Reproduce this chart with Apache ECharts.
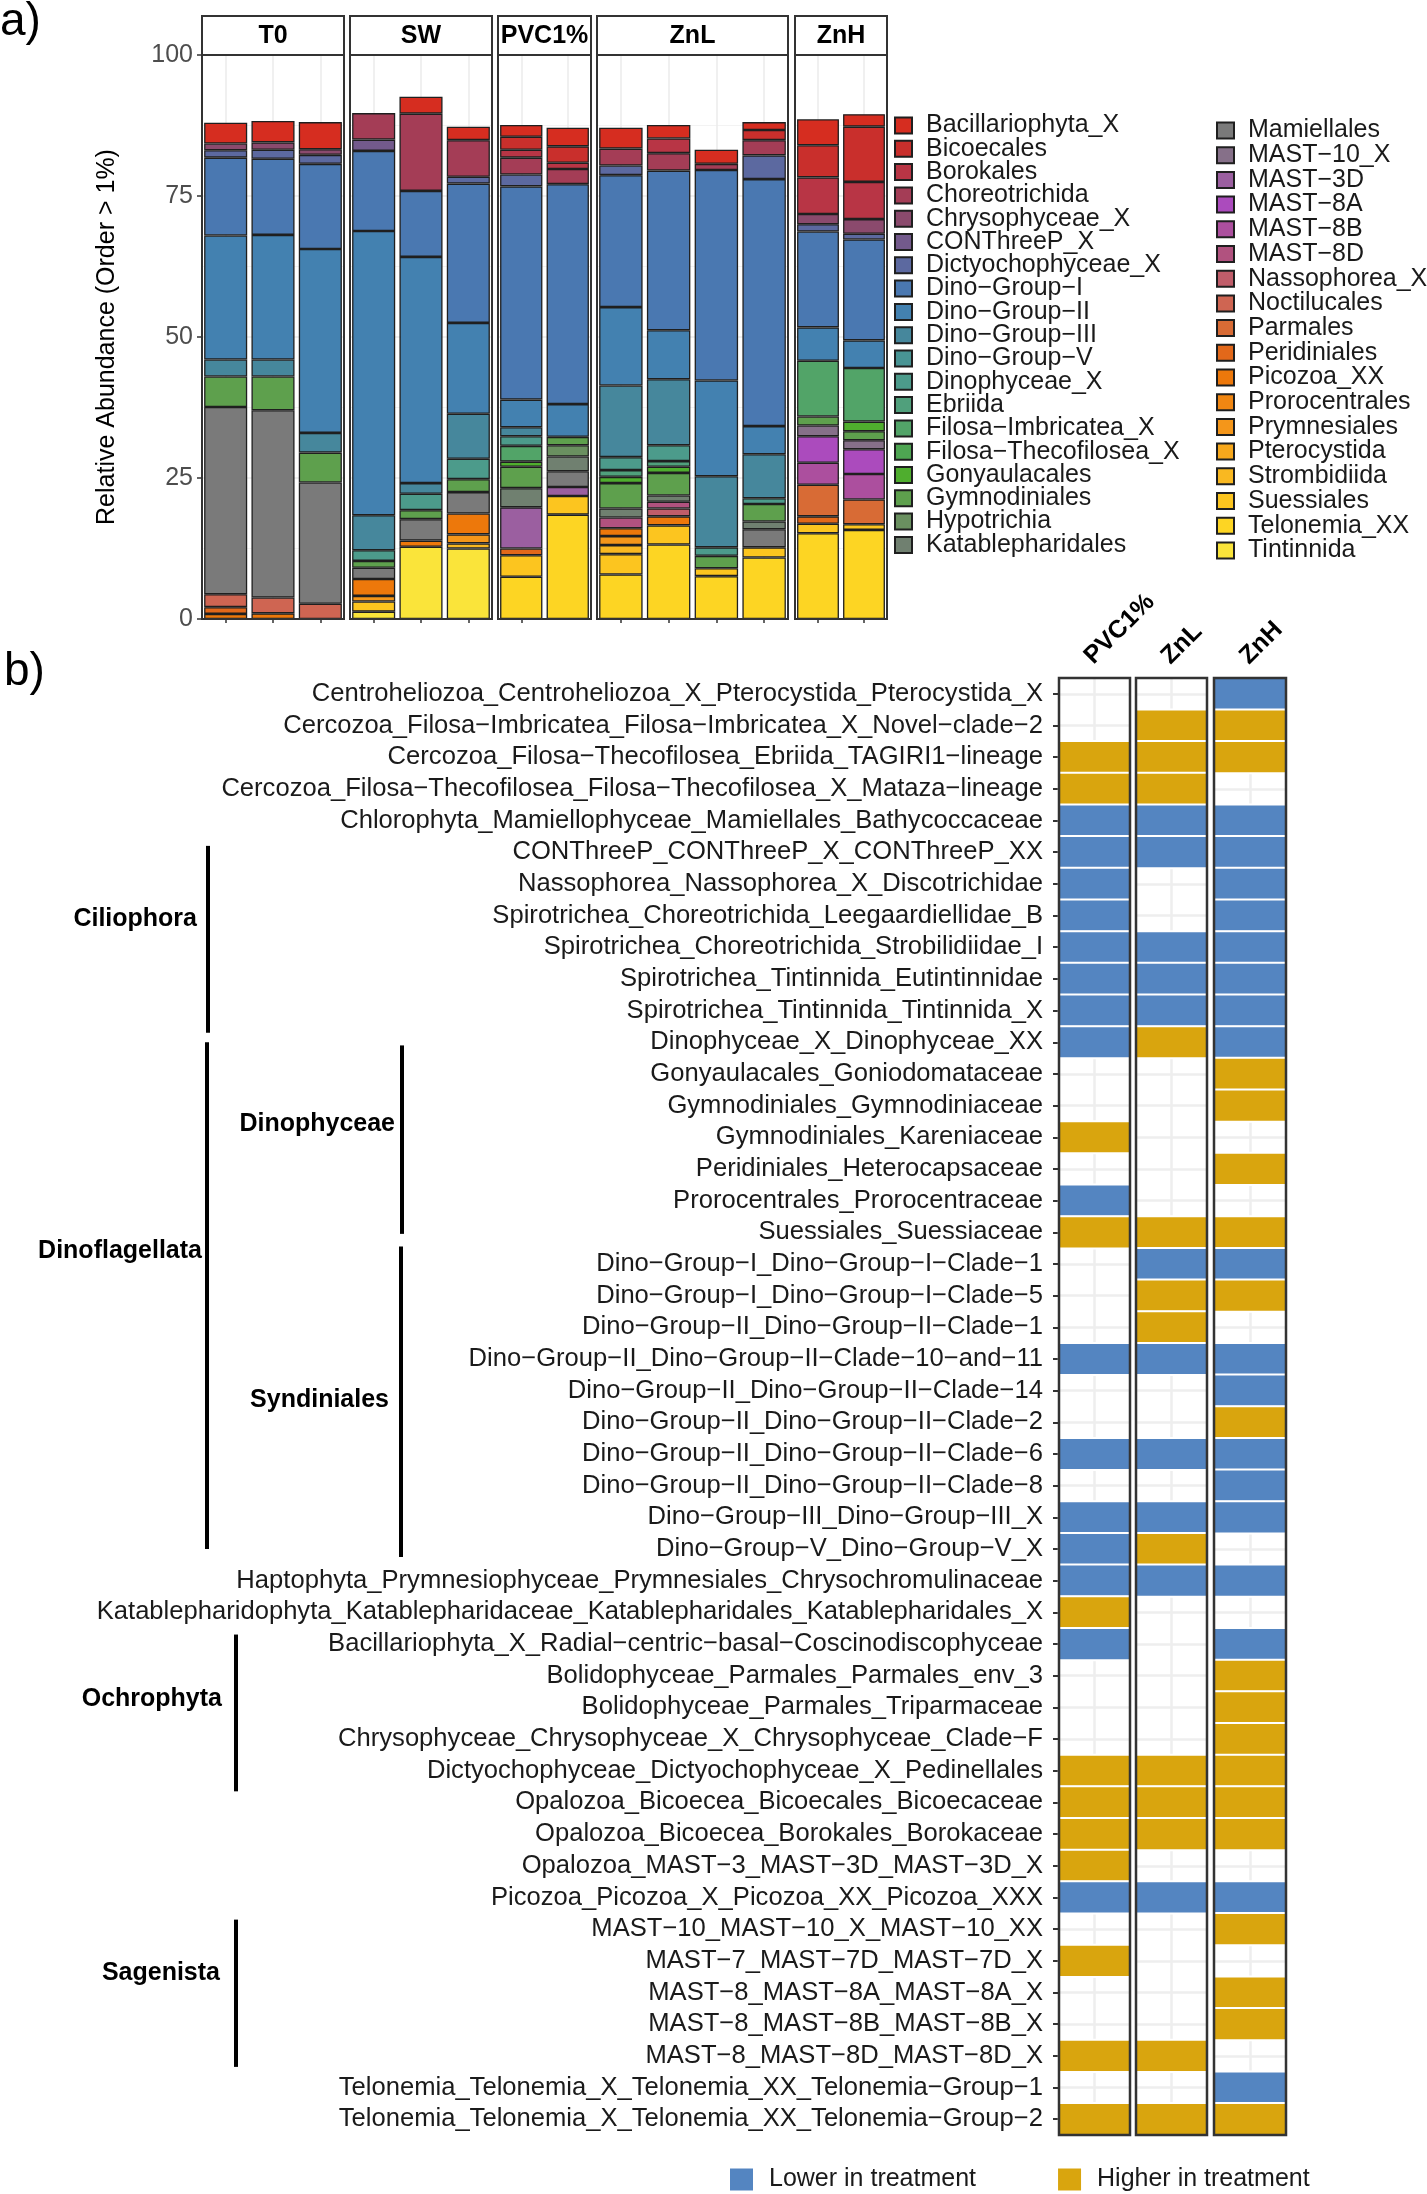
<!DOCTYPE html>
<html><head><meta charset="utf-8">
<script src="https://cdn.jsdelivr.net/npm/echarts@6/dist/echarts.min.js"></script>
<style>html,body{margin:0;padding:0;background:#fff}#c{width:1427px;height:2194px}</style>
</head><body><div id="c"></div>
<script>
// ---------------- DATA: panel a (stacked relative abundance) ----------------
const samples = ['T0-1','T0-2','T0-3','SW-1','SW-2','SW-3','PVC1%-1','PVC1%-2','ZnL-1','ZnL-2','ZnL-3','ZnL-4','ZnH-1','ZnH-2'];
const sampleFacet = ['T0','T0','T0','SW','SW','SW','PVC1%','PVC1%','ZnL','ZnL','ZnL','ZnL','ZnH','ZnH'];
const facets = ['T0','SW','PVC1%','ZnL','ZnH'];
const yTicks = [0,25,50,75,100];
const taxa = ['Bacillariophyta_X','Bicoecales','Borokales','Choreotrichida','Chrysophyceae_X','CONThreeP_X','Dictyochophyceae_X','Dino-Group-I','Dino-Group-II','Dino-Group-III','Dino-Group-V','Dinophyceae_X','Ebriida','Filosa-Imbricatea_X','Filosa-Thecofilosea_X','Gonyaulacales','Gymnodiniales','Hypotrichia','Katablepharidales','Mamiellales','MAST-10_X','MAST-3D','MAST-8A','MAST-8B','MAST-8D','Nassophorea_X','Noctilucales','Parmales','Peridiniales','Picozoa_XX','Prorocentrales','Prymnesiales','Pterocystida','Strombidiida','Suessiales','Telonemia_XX','Tintinnida'];
const taxonColors = ['#D62D20','#C92F2C','#B83545','#A43D56','#8B4A6D','#735A8C','#5C69A0','#4A78B1','#4381B0','#46879C','#489494','#4C9B8B','#50A07C','#52A468','#4EA552','#4FAE2E','#5EA04D','#6A9060','#708070','#7A7A7A','#867089','#9B5FA0','#AB4BBD','#AC4F9E','#B1527F','#C05D6A','#CF6552','#D86B35','#E2681A','#ED780B','#F08612','#F4961A','#F7A81C','#F9B821','#FCC51F','#FDD523','#FAE43A'];

const Bacillariophyta_X     = [3.7,3.8,4.8, 0,3.0,2.4, 2.1,3.3, 3.7,2.4,2.5,1.4, 4.6,2.2];
const Bicoecales            = [0,0,0, 0,0,0, 2.3,2.9, 0,0,0,1.8, 5.7,9.8];
const Borokales             = [0,0,0, 0,0,0, 1.4,1.1, 0,2.6,0,0, 6.5,6.6];
const Choreotrichida        = [0,0,0, 4.7,13.7,6.5, 3.0,2.7, 3.0,3.1,1.1,2.7, 0,0];
const Chrysophyceae_X       = [1.2,1.3,1.0, 0,0,0, 0,0, 0,0,0,0, 1.8,2.6];
const CONThreeP_X           = [0,0,0, 2.0,0,0, 0,0, 0,0,0,0, 0,0];
const Dictyochophyceae_X    = [1.3,1.6,1.6, 0,0,1.2, 2.1,0, 1.7,0,0,4.2, 1.3,1.0];
const Dino_Group_I          = [13.8,13.5,15.1, 14.2,11.7,24.7, 37.8,39.0, 23.4,28.3,37.3,43.8, 17.0,17.9];
const Dino_Group_II         = [22.0,22.1,32.6, 50.4,40.1,16.1, 4.9,5.8, 13.9,8.7,17.0,5.0, 5.9,4.9];
const Dino_Group_III        = [3.0,3.0,3.5, 6.2,1.9,8.0, 1.6,0, 12.7,11.7,12.6,7.8, 0,0];
const Dino_Group_V          = [0,0,0, 0,0,0, 0,0, 0,0,0,0, 0,0];
const Dinophyceae_X         = [0,0,0, 1.9,2.9,3.6, 1.7,0, 2.3,2.8,1.5,1.0, 0,0];
const Ebriida               = [0,0,0, 0,0,0, 0,0, 1.2,1.0,0,0, 0,0];
const Filosa_Imbricatea_X   = [0,0,0, 0,0,0, 2.8,0, 0,0,0,0, 9.9,9.5];
const Filosa_Thecofilosea_X = [0,0,0, 0,0,0, 0,0, 0,0,0,0, 0,0];
const Gonyaulacales         = [0,0,0, 0,0,0, 0.9,0, 1.1,1.1,0,0, 0,1.7];
const Gymnodiniales         = [5.4,6.0,5.3, 1.2,1.6,2.3, 3.8,1.5, 4.5,4.0,2.2,3.1, 1.6,1.6];
const Hypotrichia           = [0,0,0, 0,0,0, 0,2.0, 0,0,0,0, 0,0];
const Katablepharidales     = [0,0,0, 0,0,0, 3.4,2.6, 1.6,1.1,0,1.4, 0,0];
const Mamiellales           = [33.2,33.2,21.5, 2.0,3.8,3.8, 0,2.8, 0,0,0,3.2, 0,0];
const MAST_10_X             = [0,0,0, 0,0,0, 0,0, 0,0,0,0, 1.9,1.6];
const MAST_3D               = [0,0,0, 0,0,0, 7.3,1.6, 0,0,0,0, 0,0];
const MAST_8A               = [0,0,0, 0,0,0, 0,0, 0,0,0,0, 4.7,4.4];
const MAST_8B               = [0,0,0, 0,0,0, 0,0, 0,0,0,0, 3.9,4.5];
const MAST_8D               = [0,0,0, 0,0,0, 0,0, 1.9,1.2,0,0, 0,0];
const Nassophorea_X         = [0,0,0, 0,0,0, 0,0, 0,1.4,0,0, 0,0];
const Noctilucales          = [2.3,2.8,2.7, 0,0,0, 0,0, 0,0,0,0, 0,0];
const Parmales              = [0,0,0, 0,0,0, 0,0, 0,0,0,0, 5.6,4.4];
const Peridiniales          = [1.2,0,0, 0,0,0, 1.2,0, 0,0,0,0, 1.3,0];
const Picozoa_XX            = [0.9,1.0,0, 3.0,1.1,3.7, 0,0, 1.4,1.6,0,0, 0,0];
const Prorocentrales        = [0,0,0, 0,0,0, 0,0, 0,0,0,0, 0,0];
const Prymnesiales          = [0,0,0, 1.0,0,1.6, 0,0, 1.6,0,0,0, 0,0];
const Pterocystida          = [0,0,0, 0,0,0, 0,0, 0,0,0,0, 0,0];
const Strombidiida          = [0,0,0, 0,0,0.9, 0,0, 1.6,0,0,0, 0,0];
const Suessiales            = [0,0,0, 1.8,0,0, 3.8,3.3, 3.6,3.4,1.4,1.8, 1.7,1.0];
const Telonemia_XX          = [0,0,0, 0,0,0, 7.5,18.5, 7.9,13.2,7.6,10.9, 15.2,15.8];
const Tintinnida            = [0,0,0, 1.3,12.8,12.5, 0,0, 0,0,0,0, 0,0];

const taxonValues = [Bacillariophyta_X,Bicoecales,Borokales,Choreotrichida,Chrysophyceae_X,CONThreeP_X,Dictyochophyceae_X,Dino_Group_I,Dino_Group_II,Dino_Group_III,Dino_Group_V,Dinophyceae_X,Ebriida,Filosa_Imbricatea_X,Filosa_Thecofilosea_X,Gonyaulacales,Gymnodiniales,Hypotrichia,Katablepharidales,Mamiellales,MAST_10_X,MAST_3D,MAST_8A,MAST_8B,MAST_8D,Nassophorea_X,Noctilucales,Parmales,Peridiniales,Picozoa_XX,Prorocentrales,Prymnesiales,Pterocystida,Strombidiida,Suessiales,Telonemia_XX,Tintinnida];

// ---------------- DATA: panel b (direction of change) ----------------
const hmCols = ['PVC1%','ZnL','ZnH'];
const hmLevels = ['Lower in treatment','Higher in treatment'];
const hmRows = ['Centroheliozoa_Centroheliozoa_X_Pterocystida_Pterocystida_X','Cercozoa_Filosa-Imbricatea_Filosa-Imbricatea_X_Novel-clade-2','Cercozoa_Filosa-Thecofilosea_Ebriida_TAGIRI1-lineage','Cercozoa_Filosa-Thecofilosea_Filosa-Thecofilosea_X_Mataza-lineage','Chlorophyta_Mamiellophyceae_Mamiellales_Bathycoccaceae','CONThreeP_CONThreeP_X_CONThreeP_XX','Nassophorea_Nassophorea_X_Discotrichidae','Spirotrichea_Choreotrichida_Leegaardiellidae_B','Spirotrichea_Choreotrichida_Strobilidiidae_I','Spirotrichea_Tintinnida_Eutintinnidae','Spirotrichea_Tintinnida_Tintinnida_X','Dinophyceae_X_Dinophyceae_XX','Gonyaulacales_Goniodomataceae','Gymnodiniales_Gymnodiniaceae','Gymnodiniales_Kareniaceae','Peridiniales_Heterocapsaceae','Prorocentrales_Prorocentraceae','Suessiales_Suessiaceae','Dino-Group-I_Dino-Group-I-Clade-1','Dino-Group-I_Dino-Group-I-Clade-5','Dino-Group-II_Dino-Group-II-Clade-1','Dino-Group-II_Dino-Group-II-Clade-10-and-11','Dino-Group-II_Dino-Group-II-Clade-14','Dino-Group-II_Dino-Group-II-Clade-2','Dino-Group-II_Dino-Group-II-Clade-6','Dino-Group-II_Dino-Group-II-Clade-8','Dino-Group-III_Dino-Group-III_X','Dino-Group-V_Dino-Group-V_X','Haptophyta_Prymnesiophyceae_Prymnesiales_Chrysochromulinaceae','Katablepharidophyta_Katablepharidaceae_Katablepharidales_Katablepharidales_X','Bacillariophyta_X_Radial-centric-basal-Coscinodiscophyceae','Bolidophyceae_Parmales_Parmales_env_3','Bolidophyceae_Parmales_Triparmaceae','Chrysophyceae_Chrysophyceae_X_Chrysophyceae_Clade-F','Dictyochophyceae_Dictyochophyceae_X_Pedinellales','Opalozoa_Bicoecea_Bicoecales_Bicoecaceae','Opalozoa_Bicoecea_Borokales_Borokaceae','Opalozoa_MAST-3_MAST-3D_MAST-3D_X','Picozoa_Picozoa_X_Picozoa_XX_Picozoa_XXX','MAST-10_MAST-10_X_MAST-10_XX','MAST-7_MAST-7D_MAST-7D_X','MAST-8_MAST-8A_MAST-8A_X','MAST-8_MAST-8B_MAST-8B_X','MAST-8_MAST-8D_MAST-8D_X','Telonemia_Telonemia_X_Telonemia_XX_Telonemia-Group-1','Telonemia_Telonemia_X_Telonemia_XX_Telonemia-Group-2'];
// 0 = not significant, 1 = lower in treatment, 2 = higher in treatment
const hmPVC = [0,0,2,2,1,1,1,1,1,1,1,1,0,0,2,0,1,2,0,0,0,1,0,0,1,0,1,1,1,2,1,0,0,0,2,2,2,2,1,0,2,0,0,2,0,2];
const hmZnL = [0,2,2,2,1,1,0,0,1,1,1,2,0,0,0,0,0,2,1,2,2,1,0,0,1,0,1,2,1,0,0,0,0,0,2,2,2,0,1,0,0,0,0,2,0,2];
const hmZnH = [1,2,2,0,1,1,1,1,1,1,1,1,2,2,0,2,0,2,1,2,0,1,1,2,1,1,1,0,1,0,1,2,2,2,2,2,2,0,1,2,0,2,2,0,1,2];
const hmVals = [hmPVC, hmZnL, hmZnH];

// taxonomic brackets (row units)
const groupNames = ['Ciliophora','Dinoflagellata','Dinophyceae','Syndiniales','Ochrophyta','Sagenista'];
const groupFrom  = [4.8, 11.0, 11.1, 17.45, 29.7, 38.7];
const groupTo    = [10.7, 27.0, 17.05, 27.25, 34.65, 43.35];
const groupLabelAt = [7.1, 17.6, 13.6, 22.3, 31.75, 40.4];

// ---------------- LAYOUT ----------------
const FONT = 'Liberation Sans, Arial, Helvetica, sans-serif';
const BLUE = '#5485C1', GOLD = '#D9A50E';
const barPanels = [[202,142],[350,142],[498,93],[597,191],[795,92]];
const BAR_TOP = 55, BAR_H = 564, STRIP_TOP = 16;
const hmPanels = [[1059,71],[1136,71],[1214,72]];
const HM_TOP = 678, HM_H = 1457;
const groupLineX = [208, 207, 402, 401, 236, 236];
const groupLabelRight = [197, 202, 395, 389, 222, 220];
const dash = s => s.replace(/-/g, '\u2212');

const chart = echarts.init(document.getElementById('c'), null, {renderer:'canvas', width:1427, height:2194});
const grids = [], xAxes = [], yAxes = [], series = [], hmIdx = [];

facets.forEach((f, g) => {
  const idx = sampleFacet.map((sf,i)=> sf===f ? i : -1).filter(i=>i>=0);
  grids.push({left:barPanels[g][0], top:BAR_TOP, width:barPanels[g][1], height:BAR_H});
  xAxes.push({type:'category', gridIndex:g, data: idx.map(i=>samples[i]), axisLine:{show:false}, axisLabel:{show:false},
    axisTick:{show:true, alignWithLabel:true, length:4, lineStyle:{color:'#333', width:1.5}}, splitLine:{show:false}});
  yAxes.push({type:'value', gridIndex:g, min:yTicks[0], max:yTicks[yTicks.length-1], interval:25,
    axisLine:{show:false}, axisTick:{show:g===0, length:5, lineStyle:{color:'#333', width:1.5}},
    axisLabel:{show:g===0, fontSize:25, color:'#4d4d4d', margin:9, fontFamily:FONT},
    splitLine:{show:true, lineStyle:{color:'#ebebeb', width:1.5}},
    minorTick:{show:false, splitNumber:2}, minorSplitLine:{show:true, lineStyle:{color:'#f3f3f3', width:1}},
    name: g===0 ? 'Relative Abundance (Order > 1%)' : '', nameLocation:'middle', nameGap:82,
    nameTextStyle:{fontSize:25, color:'#000', fontFamily:FONT}});
  series.push({type:'line', xAxisIndex:g, yAxisIndex:g, data:[], silent:true, z:1,
    markLine:{silent:true, z:1, symbol:'none', animation:false, label:{show:false},
      lineStyle:{color:'#ebebeb', width:1.5, type:'solid'}, data: idx.map(i=>({xAxis:samples[i]}))}});
  for (let t = taxa.length-1; t >= 0; t--) {
    series.push({type:'bar', name:taxa[t], xAxisIndex:g, yAxisIndex:g, stack:'f'+g, barWidth:'91%', z:3,
      data: idx.map(i => taxonValues[t][i] || null),
      itemStyle:{color:taxonColors[t], borderColor:'#1f1f1f', borderWidth:1.3}, emphasis:{disabled:true}});
  }
});

hmCols.forEach((c, k) => {
  const g = facets.length + k;
  grids.push({left:hmPanels[k][0], top:HM_TOP, width:hmPanels[k][1], height:HM_H});
  xAxes.push({type:'category', gridIndex:g, data:[c], position:'top', axisLine:{show:false}, axisTick:{show:false},
    axisLabel:{show:false}, splitLine:{show:false}});
  yAxes.push({type:'category', gridIndex:g, data:hmRows, inverse:true, axisLine:{show:false},
    axisTick:{show:k===0, length:6, alignWithLabel:true, lineStyle:{color:'#333', width:2}},
    axisLabel:{show:k===0, fontSize:25.6, color:'#1a1a1a', margin:16, fontFamily:FONT, formatter:dash, interval:0},
    splitLine:{show:false}});
  series.push({type:'line', xAxisIndex:g, yAxisIndex:g, data:[], silent:true, z:1,
    markLine:{silent:true, z:1, symbol:'none', animation:false, label:{show:false},
      lineStyle:{color:'#eeeeee', width:2.5, type:'solid'},
      data: hmRows.map(r=>({yAxis:r})).concat([{xAxis:c}])}});
  hmIdx.push(series.length);
  series.push({type:'heatmap', xAxisIndex:g, yAxisIndex:g, z:3,
    data: hmVals[k].map((v,i)=>[0,i,v]).filter(d=>d[2]>0),
    itemStyle:{borderColor:'#fff', borderWidth:2}, emphasis:{disabled:true}});
});

const legendBase = {orient:'vertical', itemWidth:17, itemHeight:16, icon:'rect', selectedMode:false, padding:0,
  formatter: dash, textStyle:{fontSize:25, color:'#1a1a1a', padding:[0,0,0,9], fontFamily:FONT}};

const option = {
  animation:false,
  textStyle:{fontFamily:FONT},
  grid:grids, xAxis:xAxes, yAxis:yAxes, series:series,
  legend:[
    Object.assign({}, legendBase, {data:taxa.slice(0,19), left:894, top:113, itemGap:-1.7}),
    Object.assign({}, legendBase, {data:taxa.slice(19), left:1216, top:118, itemGap:-0.3})
  ],
  visualMap:{type:'piecewise', seriesIndex:hmIdx, dimension:2, orient:'horizontal', left:730, top:2167,
    pieces:[{value:1, label:hmLevels[0], color:BLUE},{value:2, label:hmLevels[1], color:GOLD}],
    itemWidth:23, itemHeight:22, itemGap:82, itemSymbol:'rect', textGap:16, selectedMode:false, hoverLink:false, padding:0,
    textStyle:{fontSize:25, color:'#1a1a1a', fontFamily:FONT}}
};
chart.setOption(option);

// ---------------- decorations: strips, borders, brackets, column labels ----------------
const gfx = [];
facets.forEach((f,g)=>{
  const [x,w] = barPanels[g];
  gfx.push({type:'rect', silent:true, z:100, shape:{x:x, y:STRIP_TOP, width:w, height:BAR_TOP-STRIP_TOP}, style:{fill:'#fff', stroke:'#333', lineWidth:2}});
  gfx.push({type:'text', silent:true, z:101, x:x+w/2, y:(STRIP_TOP+BAR_TOP)/2+1, style:{text:f, fill:'#000', font:'bold 25px '+FONT, align:'center', verticalAlign:'middle'}});
  gfx.push({type:'rect', silent:true, z:100, shape:{x:x, y:BAR_TOP, width:w, height:BAR_H}, style:{fill:'none', stroke:'#333', lineWidth:2}});
});
hmPanels.forEach(([x,w],k)=>{
  gfx.push({type:'rect', silent:true, z:100, shape:{x:x, y:HM_TOP, width:w, height:HM_H}, style:{fill:'none', stroke:'#333', lineWidth:2.5}});
  const cx = chart.convertToPixel({seriesIndex:hmIdx[k]}, [0,0])[0];
  gfx.push({type:'text', silent:true, z:100, x:cx+3, y:HM_TOP-9, rotation:Math.PI/4,
    style:{text:hmCols[k], fill:'#000', font:'bold 25px '+FONT, align:'left', verticalAlign:'bottom'}});
});
const y0 = chart.convertToPixel({seriesIndex:hmIdx[0]}, [0,0])[1];
const y1 = chart.convertToPixel({seriesIndex:hmIdx[0]}, [0,1])[1];
const rowPx = r => y0 + r*(y1-y0);
groupNames.forEach((nm,i)=>{
  gfx.push({type:'line', silent:true, z:100, shape:{x1:groupLineX[i], y1:rowPx(groupFrom[i]), x2:groupLineX[i], y2:rowPx(groupTo[i])}, style:{stroke:'#000', lineWidth:4}});
  gfx.push({type:'text', silent:true, z:100, x:groupLabelRight[i], y:rowPx(groupLabelAt[i]), style:{text:nm, fill:'#000', font:'bold 25px '+FONT, align:'right', verticalAlign:'middle'}});
});
gfx.push({type:'text', silent:true, x:0, y:22, style:{text:'a)', fill:'#000', font:'46px '+FONT, align:'left', verticalAlign:'middle'}});
gfx.push({type:'text', silent:true, x:4, y:672, style:{text:'b)', fill:'#000', font:'46px '+FONT, align:'left', verticalAlign:'middle'}});
chart.setOption({graphic:gfx});
</script></body></html>
